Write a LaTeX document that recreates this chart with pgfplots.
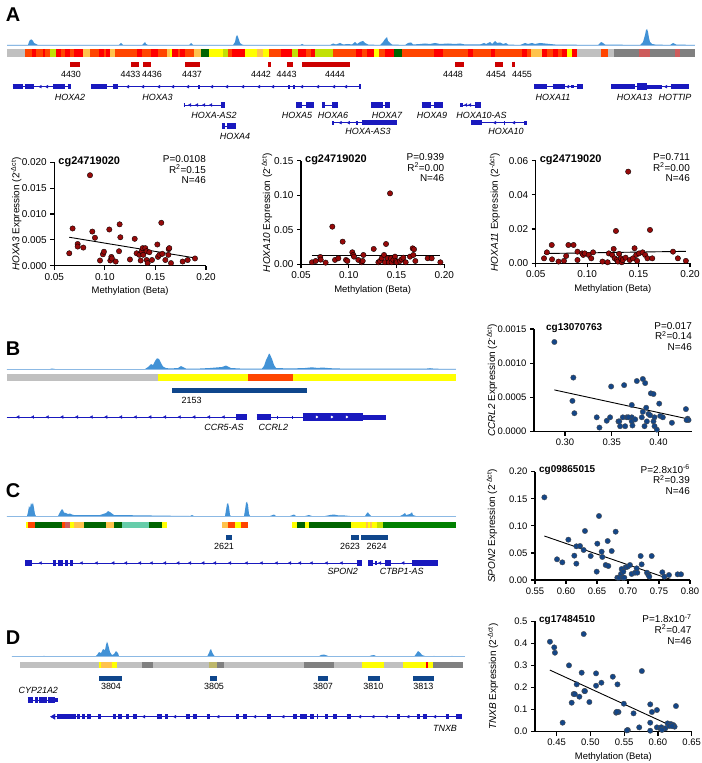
\documentclass[border=0pt]{standalone}
\usepackage{fontspec}
\setmainfont{Liberation Sans}
\setsansfont{Liberation Sans}
\usepackage{pgfplots}
\pgfplotsset{compat=1.18}
\definecolor{sigblue}{RGB}{66,146,214}
\definecolor{baseblue}{RGB}{140,185,228}
\definecolor{cRed}{RGB}{255,0,0}
\definecolor{cOR}{RGB}{255,69,0}
\definecolor{cLO}{RGB}{255,195,77}
\definecolor{cYel}{RGB}{255,255,0}
\definecolor{cYG}{RGB}{194,225,5}
\definecolor{cDG}{RGB}{0,100,0}
\definecolor{cG}{RGB}{0,128,0}
\definecolor{cAq}{RGB}{102,205,170}
\definecolor{cGray}{RGB}{192,192,192}
\definecolor{cDGray}{RGB}{128,128,128}
\definecolor{cIR}{RGB}{205,92,92}
\definecolor{cKh}{RGB}{189,183,107}
\definecolor{cpgRed}{RGB}{204,0,0}
\definecolor{cpgNavy}{RGB}{15,70,140}
\definecolor{geneblue}{RGB}{25,25,190}
\definecolor{ptRed}{RGB}{150,10,10}
\definecolor{ptNavy}{RGB}{20,70,135}
\newcommand{\seg}[5]{\addplot[fill=#5,draw=none,forget plot] coordinates {(#1,#3)(#2,#3)(#2,#4)(#1,#4)};}
\newcommand{\segA}[3]{\seg{#1}{#2}{48.7}{56.7}{#3}}
\newcommand{\segB}[3]{\seg{#1}{#2}{374.3}{380.7}{#3}}
\newcommand{\segC}[3]{\seg{#1}{#2}{521.7}{528.3}{#3}}
\newcommand{\segD}[3]{\seg{#1}{#2}{661.7}{668.3}{#3}}
\newcommand{\ex}[4][5.5]{\addplot[geneblue,line width=#1bp,forget plot] coordinates {(#2,#4)(#3,#4)};}
\newcommand{\inn}[3]{\addplot[geneblue,line width=0.9bp,forget plot] coordinates {(#1,#3)(#2,#3)};}
\newcommand{\arl}[1]{\addplot[geneblue,only marks,mark=triangle*,mark size=1.6bp,mark options={rotate=90},forget plot] coordinates {#1};}
\newcommand{\glab}[3]{\node[font=\fontsize{9}{10}\selectfont\itshape,inner sep=0pt] at (axis cs:#1,#2) {#3};}
\newcommand{\nlab}[3]{\node[font=\fontsize{9}{10}\selectfont,inner sep=0pt] at (axis cs:#1,#2) {#3};}
\newcommand{\plab}[3]{\node[font=\bfseries\fontsize{20}{20}\selectfont,inner sep=0pt] at (axis cs:#1,#2) {#3};}
\pgfplotsset{
  gp/.style={scale only axis, clip=false, axis lines*=left,
    axis line style={-,line width=1.2pt},
    every outer x axis line/.append style={-},
    every outer y axis line/.append style={-},
    every tick/.style={black,line width=1.2pt},
    tick align=outside, major tick length=4bp,
    scaled ticks=false,
    /pgf/number format/assume math mode=true,
    tick label style={font=\fontsize{10}{12}\selectfont},
    label style={font=\fontsize{9.5}{11}\selectfont},
    xticklabel style={/pgf/number format/.cd,fixed,fixed zerofill,precision=2},
    anchor=south west},
  yl/.style={every axis y label/.style={at={(axis description cs:0,0.5)},rotate=90,anchor=center,yshift=#1bp}},
  ptR/.style={only marks, mark=*, mark size=2.7bp, mark options={fill=ptRed, draw=black, line width=0.35pt}},
  ptB/.style={only marks, mark=*, mark size=2.7bp, mark options={fill=ptNavy, draw=black!70, line width=0.35pt}},
  trend/.style={black, line width=0.9pt, mark=none},
}
\newcommand{\ttl}[2]{\node[anchor=north west,inner sep=0pt,font=\bfseries\fontsize{#2}{#2}\selectfont,xshift=4bp,yshift=6bp] at (rel axis cs:0,1) {#1};}
\newcommand{\stats}[2]{\node[anchor=north east,align=right,inner sep=0pt,font=\fontsize{#2}{10.6}\selectfont,yshift=7bp] at (rel axis cs:1,1) {#1};}
\begin{document}
\begin{tikzpicture}
\useasboundingbox (0,0) rectangle (702bp,763bp);
\begin{axis}[at={(0,0)}, anchor=south west, scale only axis, width=702bp, height=763bp,
  xmin=0, xmax=702, ymin=0, ymax=763, y dir=reverse, hide axis, clip=false]
% ================= PANEL A =================
\plab{13}{15}{A}
\addplot[fill=sigblue,draw=none,forget plot] coordinates {(7,45)(28,45)(29,42)(30,40)(31.5,39.5)(33,41)(34,43)(36,44)(38,45)
(119,45)(121,43)(123,45)(142,45)(144,43)(145,42)(146,44)(148,45)(189,45)(191,43)(193,45)
(233,45)(235,42)(236,37)(237,35)(238,37)(239,40)(240,43)(242,44.5)(244,45)(300,45)(302,44)(304,45)
(330,45)(333,43.5)(336,44.5)(340,43)(343,44.5)(348,44)(352,44.5)(355,42)(357,44)(360,42)(363,41)(365,43)(368,44.5)
(380,45)(383,42)(385,39)(387,37)(388,41)(390,43)(392,44.5)
(405,45)(408,43)(411,42.5)(413,44.5)(420,44)(425,43.5)(430,44)(435,43)(440,44)(448,43.5)(455,44)(460,43.5)(465,44.5)
(480,44.5)(484,43)(486,44)(490,42)(492,44)(495,41)(497,43)(500,42.5)(503,44)(506,43)(508,44.5)
(520,45)(525,43)(528,44)(532,43)(535,44)(540,43)(545,43.5)(550,44)(555,44.5)
(598,45)(601,42)(603,43)(605,44.5)(640,45)(643,42)(645,35)(646,30)(647,29)(648,32)(649,38)(650,42)(652,44)(655,44.5)
(670,45)(673,43)(676,44.5)(695,45)};
\addplot[baseblue,line width=0.8bp,forget plot] coordinates {(7,45)(695,45)};
\segA{6.75}{24.75}{cGray}\segA{24.75}{31.5}{cOR}\segA{31.5}{36}{cRed}\segA{36}{42.75}{cOR}\segA{42.75}{45}{cRed}
\segA{45}{50.4}{cOR}\segA{50.4}{56.25}{cYG}\segA{56.25}{60.75}{cRed}\segA{60.75}{65.25}{cOR}\segA{65.25}{69.75}{cRed}
\segA{69.75}{74.25}{cOR}\segA{74.25}{83.25}{cRed}\segA{83.25}{90}{cLO}\segA{90}{99}{cOR}\segA{99}{103.5}{cRed}
\segA{103.5}{105.75}{cOR}\segA{105.75}{110.25}{cRed}\segA{110.25}{114.75}{cLO}\segA{114.75}{137.25}{cOR}
\segA{137.25}{141.75}{cRed}\segA{141.75}{150.75}{cOR}\segA{150.75}{157.5}{cRed}\segA{157.5}{166.5}{cOR}
\segA{166.5}{170}{cLO}\segA{170}{172.4}{cYel}\segA{172.4}{177.75}{cRed}\segA{177.75}{180}{cOR}\segA{180}{184.5}{cRed}
\segA{184.5}{193.5}{cOR}\segA{193.5}{201}{cLO}\segA{201}{209}{cDG}\segA{209}{222.75}{cYel}\segA{222.75}{228}{cYG}
\segA{228}{231.75}{cOR}\segA{231.75}{245.25}{cRed}\segA{245.25}{256.5}{cYel}\segA{256.5}{263.25}{cLO}
\segA{263.25}{269}{cYel}\segA{269}{281.25}{cOR}\segA{281.25}{291.6}{cRed}\segA{291.6}{297.9}{cYG}
\segA{297.9}{306}{cRed}\segA{306}{310.5}{cOR}\segA{310.5}{315}{cRed}\segA{315}{333}{cYG}\segA{333}{355.5}{cOR}
\segA{355.5}{362}{cRed}\segA{362}{367}{cOR}\segA{367}{373.5}{cRed}\segA{373.5}{379.35}{cYel}\segA{379.35}{385}{cOR}
\segA{385}{393.75}{cRed}\segA{393.75}{401.85}{cDG}\segA{401.85}{434.25}{cOR}\segA{434.25}{443.25}{cRed}
\segA{443.25}{468}{cOR}\segA{468}{472.5}{cRed}\segA{472.5}{490.5}{cOR}\segA{490.5}{495}{cRed}\segA{495}{522}{cOR}
\segA{522}{526.5}{cRed}\segA{526.5}{531}{cOR}\segA{531}{542.25}{cLO}\segA{542.25}{547}{cRed}\segA{547}{553}{cOR}
\segA{553}{558}{cRed}\segA{558}{562}{cOR}\segA{562}{567}{cRed}\segA{567}{571.5}{cYel}\segA{571.5}{577.35}{cRed}
\segA{577.35}{600.75}{cGray}\segA{600.75}{607.5}{cOR}\segA{607.5}{614.25}{cGray}\segA{614.25}{639}{cDGray}
\segA{639}{650.25}{cIR}\segA{650.25}{675}{cDGray}\segA{675}{679.5}{cIR}\segA{679.5}{695}{cDGray}
% CpG markers
\seg{69.8}{79.7}{62}{67}{cpgRed}\seg{131}{138.6}{62}{67}{cpgRed}\seg{142.7}{151}{62}{67}{cpgRed}
\seg{185}{200}{62}{67}{cpgRed}\seg{268}{270.5}{62}{67}{cpgRed}\seg{286.7}{293}{62}{67}{cpgRed}
\seg{301.5}{350}{62}{67}{cpgRed}\seg{454.5}{463.5}{62}{67}{cpgRed}\seg{495}{503}{62}{67}{cpgRed}\seg{512}{515}{62}{67}{cpgRed}
\nlab{71}{74.5}{4430}\nlab{130.5}{74.5}{4433}\nlab{152}{74.5}{4436}\nlab{192}{74.5}{4437}\nlab{261}{74.5}{4442}
\nlab{286.7}{74.5}{4443}\nlab{335}{74.5}{4444}\nlab{453}{74.5}{4448}\nlab{496}{74.5}{4454}\nlab{522}{74.5}{4455}
% genes row 1
\inn{12.6}{70.6}{86.7}\ex{12.6}{22.5}{86.7}\ex{24.7}{33.8}{86.7}\ex{53}{65}{86.7}\ex{67.5}{70.6}{86.7}\arl{(40.5,86.7)(47,86.7)}
\inn{91}{360}{86.7}\ex{91}{107}{86.7}\ex{112.5}{118}{86.7}
\arl{(128,86.7)(143,86.7)(159,86.7)(173,86.7)(188,86.7)(212,86.7)(227,86.7)(243,86.7)(259,86.7)(273,86.7)(302,86.7)(318,86.7)(334,86.7)(346,86.7)}
\ex[4]{198}{200}{86.7}\ex[4]{288}{290}{86.7}\ex[4]{293}{295}{86.7}\ex[5]{359}{360.5}{86.7}
\inn{534}{583}{86.7}\ex{534}{547}{86.7}\ex{552.6}{565}{86.7}\ex[3.5]{571}{574}{86.7}\ex{577}{583}{86.7}\arl{(568,86.7)}
\inn{611}{688.5}{86.7}\ex{611}{634.5}{86.7}\ex[6.5]{637}{646.6}{86.7}\ex[4]{646.6}{661.5}{86.7}\ex{670.5}{688.5}{86.7}\arl{(666,86.7)}
\glab{70}{97.3}{HOXA2}\glab{157.5}{97.3}{HOXA3}\glab{553}{97.3}{HOXA11}\glab{634.5}{97.3}{HOXA13}\glab{675}{97.3}{HOTTIP}
% genes row 2
\inn{183.6}{225}{105}\ex[4]{183.6}{185.4}{105}\ex{220.5}{225}{105}\arl{(190,105)(197,105)(204,105)(211,105)}
\inn{296}{313.6}{105}\ex{296}{302.4}{105}\ex{306}{313.6}{105}
\inn{321.75}{337.5}{105}\ex{321.75}{325}{105}\ex{332}{337.5}{105}
\inn{371.25}{389.7}{105}\ex{371.25}{382.5}{105}\ex{384.75}{389.7}{105}
\inn{421.65}{443.25}{105}\ex{421.65}{431}{105}\ex{434.25}{443.25}{105}
\inn{460}{480.6}{105}\ex[4]{460}{462.6}{105}\ex{474.75}{480.6}{105}\arl{(466,105)(470,105)}
\glab{214}{115}{HOXA-AS2}\glab{297}{115}{HOXA5}\glab{333}{115}{HOXA6}\glab{387}{115}{HOXA7}\glab{432}{115}{HOXA9}\glab{481.5}{115}{HOXA10-AS}
% genes row 3
\inn{221.85}{236.25}{126}\ex{221.85}{225}{126}\ex{227.25}{236.25}{126}
\inn{332}{397}{122.7}\ex[4]{332}{334.4}{122.7}\ex[4]{355.5}{357.75}{122.7}\ex{362}{397}{122.7}\arl{(340.6,122.7)(348.75,122.7)}
\inn{471}{526.5}{122.7}\ex{471}{482.4}{122.7}\ex[4]{504}{505.4}{122.7}\ex[4]{524}{526.5}{122.7}\arl{(495,122.7)(514,122.7)}
\glab{235}{136}{HOXA4}\glab{368}{131.7}{HOXA-AS3}\glab{506}{131.7}{HOXA10}
% ================= PANEL B =================
\plab{13}{349}{B}
\addplot[fill=sigblue,draw=none,forget plot] coordinates {(6.7,369)(50,369)(52,368.5)(55,369)(145,369)(148,367)(151,364)(153,365)(155,361)(157,358.3)(159,359)(161,363)(163,366.5)(166,368)(170,368.5)(178,368)(181,366)(183,367)(186,368.5)(200,368.5)(210,368)(222,367)(226,365.5)(228,366.5)(231,368)(240,368.5)(262,368.5)(264,366)(266,360)(268,356)(269,353.5)(270,354.5)(272,359)(274,365)(276,368)(290,368.5)(305,368)(312,367.3)(318,368)(322,367.5)(330,368.2)(340,368.5)(355,368.7)(425,368.7)(430,368.2)(435,368.7)(456,369)};
\addplot[baseblue,line width=0.8bp,forget plot] coordinates {(6.7,369)(456,369)};
\segB{6.7}{157.7}{cGray}\segB{157.7}{248.3}{cYel}\segB{248.3}{293.3}{cOR}\segB{293.3}{456}{cYel}
\seg{171.7}{307.3}{387.7}{392.7}{cpgNavy}
\nlab{191.7}{400.7}{2153}
\inn{6.7}{246.7}{417}\ex{236}{246.7}{417}
\arl{(18.3,417)(33,417)(47.7,417)(62.3,417)(77,417)(91.7,417)(106.3,417)(121,417)(135.7,417)(150.3,417)(165,417)(179.7,417)(194.3,417)(209,417)(223.7,417)}
\inn{256.7}{385.7}{417}\ex{256.7}{271}{417}\ex[7.5]{302.7}{362.7}{417}\ex[5]{362.7}{385.7}{417}
\addplot[geneblue,only marks,mark=|,mark size=1.5bp,forget plot] coordinates {(276.7,417)(291.7,417)};
\addplot[white,only marks,mark=triangle*,mark size=1.3bp,mark options={rotate=-90},forget plot] coordinates {(316.7,417)(331.7,417)(346.7,417)};
\glab{224}{427.3}{CCR5-AS}\glab{273.3}{427.3}{CCRL2}
% ================= PANEL C =================
\plab{13}{491}{C}
\addplot[fill=sigblue,draw=none,forget plot] coordinates {(6.7,516)(27,516)(28,512)(29,506)(30,508)(31,503)(32,505)(33,502.7)(34,508)(35,514)(36,516)
(58,516)(60,512)(62,509)(63,510)(64,512.5)(66,513)(68,514)(70,513.5)(72,514.5)(74,515)(100,515)(106,513)(108,511)(110,512)(112,513.5)(114,515)
(190,516)(192,515)(194,516)(225,516)(226,510)(227,504)(228,503)(229,507)(230,515)(231,516)(244,516)(245,510)(246,503)(247,501.7)(248,505)(249,514)(250,516)
(270,516)(274,514.5)(276,516)(290,516)(294,514.5)(296,516)(305,516)(309,515)(312,516)(325,516)(330,515)(334,514.5)(338,515.3)(345,515.5)(350,516)
(365,516)(367,513)(368,512.3)(369,514)(371,516)(400,516)(403,514.5)(405,513)(406,515)(410,514)(412,512.3)(413,515)(416,516)(456,516)};
\addplot[baseblue,line width=0.8bp,forget plot] coordinates {(6.7,516)(456,516)};
\segC{26}{28.3}{cYel}\segC{28.3}{35}{cOR}\segC{35}{61.7}{cDG}\segC{61.7}{65}{cOR}\segC{65}{70}{cIR}\segC{70}{74}{cYel}
\segC{74}{84}{cLO}\segC{84}{106}{cDG}\segC{106}{114.3}{cLO}\segC{114.3}{122.3}{cDG}\segC{122.3}{149}{cAq}\segC{149}{162.3}{cDG}
\segC{162.3}{166.7}{cYel}\segC{222.3}{228.3}{cLO}\segC{228.3}{235}{cOR}\segC{235}{241}{cYel}\segC{241}{247.7}{cOR}
\segC{292.3}{296.7}{cYel}\segC{296.7}{305}{cDG}\segC{305}{309.3}{cYel}\segC{309.3}{351}{cDG}\segC{351}{365.7}{cYel}
\segC{365.7}{367.5}{cLO}\segC{367.5}{369.5}{cYel}\segC{369.5}{371.7}{cLO}\segC{371.7}{376.7}{cYel}\segC{376.7}{382.7}{cYG}\segC{382.7}{456}{cG}
\seg{226}{232}{535}{540}{cpgNavy}\seg{351}{359}{535}{540}{cpgNavy}\seg{360.7}{387.7}{535}{540}{cpgNavy}
\nlab{224}{546.7}{2621}\nlab{350}{546.7}{2623}\nlab{376.7}{546.7}{2624}
\inn{25}{361.7}{563}\ex{25}{32.3}{563}\ex{52.7}{56}{563}\ex{57.7}{63.3}{563}\ex{65}{67.7}{563}\ex{70}{72.7}{563}\ex{356.7}{361.7}{563}
\arl{(40.7,563)(81.7,563)(96.7,563)(113.3,563)(126,563)(140,563)(151.7,563)(165,563)(178.3,563)(190,563)(203.3,563)(215,563)(230,563)(246.7,563)(261.7,563)(276.7,563)(290,563)(300,563)(311.7,563)(326.7,563)(341.7,563)}
\inn{368.3}{437.7}{563}\ex{368.3}{373.3}{563}\ex[4]{375}{376.7}{563}\ex{385}{391}{563}\ex{412.3}{415}{563}\ex{415}{437.7}{563}\arl{(380,563)(403.3,563)}
\glab{342.7}{571}{SPON2}\glab{401.7}{571}{CTBP1-AS}
% ================= PANEL D =================
\plab{13}{638}{D}
\addplot[fill=sigblue,draw=none,forget plot] coordinates {(11.7,656.7)(43,656.7)(44,655.5)(45,656.7)(95,656.7)(97,655)(99,652)(101,653)(103,649)(105,650)(106,645)(107,641.7)(108,644)(109,648)(110,652)(112,655)(114,654)(116,651)(118,653)(119,656)(120,656.7)
(176,656.7)(178,656)(180,656.7)(207,656.7)(209,653)(210,650)(211,649)(212,652)(214,655.5)(216,656.7)(318,656.7)(321,655)(324,654.5)(327,655.5)(330,656.7)
(368,656.7)(371,655.5)(374,655)(377,656.7)(414,656.7)(416,654)(418,651)(420,652.5)(422,655)(425,656)(428,656.7)(432,656.7)(434,655.8)(436,656.7)(450,656.7)(452,655.8)(454,656.7)(465,656.7)};
\addplot[baseblue,line width=0.8bp,forget plot] coordinates {(11.7,656.7)(465,656.7)};
\segD{20}{99.3}{cGray}\segD{99.3}{101}{cYel}\segD{101}{112.3}{cLO}\segD{112.3}{117.3}{cYel}\segD{117.3}{141.7}{cGray}
\segD{141.7}{153.3}{cDGray}\segD{153.3}{209.3}{cGray}\segD{209.3}{217.3}{cKh}\segD{217.3}{224}{cDGray}\segD{224}{304}{cGray}
\segD{304}{334.3}{cDGray}\segD{334.3}{361.7}{cGray}\segD{361.7}{384}{cYel}\segD{384}{403.3}{cGray}\segD{403.3}{425.7}{cYel}
\segD{425.7}{427.7}{cRed}\segD{427.7}{433.3}{cYel}\segD{433.3}{463.3}{cDGray}
\seg{99.3}{122.3}{675.7}{680.7}{cpgNavy}\seg{210}{216.7}{675.7}{680.7}{cpgNavy}\seg{318.3}{327.7}{675.7}{680.7}{cpgNavy}
\seg{368.3}{380}{675.7}{680.7}{cpgNavy}\seg{412.7}{434}{675.7}{680.7}{cpgNavy}
\nlab{111}{686.7}{3804}\nlab{214}{686.7}{3805}\nlab{323}{686.7}{3807}\nlab{373.3}{686.7}{3810}\nlab{423.3}{686.7}{3813}
\glab{38.3}{690.7}{CYP21A2}
\inn{27.7}{58.3}{700}\ex{27.7}{33.3}{700}\ex{35}{38.3}{700}\ex{39.3}{46.7}{700}\ex{48.3}{55}{700}\ex[3.5]{55}{58.3}{700}
\inn{51.7}{461.7}{716.7}
\ex{57.3}{76}{716.7}\ex{77.3}{80}{716.7}\ex{81.7}{85}{716.7}\ex{87.3}{90.7}{716.7}\ex{98.3}{100.7}{716.7}\ex{112.7}{116}{716.7}
\ex{118.3}{121.7}{716.7}\ex{126}{129.3}{716.7}\ex{132.7}{136.7}{716.7}\ex{157.3}{161.7}{716.7}\ex{165}{167.7}{716.7}\ex{185.7}{190}{716.7}
\ex{192.7}{196.7}{716.7}\ex{206.7}{210}{716.7}\ex{236}{239.3}{716.7}\ex{243.3}{246.7}{716.7}\ex{266.7}{270.7}{716.7}\ex{293.3}{296.7}{716.7}
\ex{300}{306.7}{716.7}\ex{310}{314}{716.7}\ex{316.7}{318.3}{716.7}\ex{325}{328.3}{716.7}\ex{333.3}{336.7}{716.7}\ex{346.7}{350.7}{716.7}
\ex{396.7}{400}{716.7}\ex{416.7}{420}{716.7}\ex{422.7}{427.3}{716.7}\ex{445.7}{449}{716.7}\ex{456}{461.7}{716.7}
\addplot[geneblue,only marks,mark=triangle*,mark size=3bp,mark options={rotate=90},forget plot] coordinates {(53.5,716.7)};
\arl{(144,716.7)(175,716.7)(218.3,716.7)(255,716.7)(283.3,716.7)(360,716.7)(373.3,716.7)(386.7,716.7)(408.3,716.7)(435,716.7)}
\glab{445}{728.3}{TNXB}
\end{axis}
% ================= SCATTER A1 =================
\begin{axis}[gp, yl=38, at={(54.3bp,497.3bp)}, width=151.7bp, height=103.4bp,
  xmin=0.05, xmax=0.20, ymin=0, ymax=0.020, xtick={0.05,0.10,0.15,0.20}, ytick={0,0.005,0.010,0.015,0.020},
  yticklabel style={/pgf/number format/.cd,fixed,fixed zerofill,precision=3},
  xlabel={Methylation (Beta)}, ylabel={\textit{HOXA3} Expression (2\textsuperscript{-Δct})}]
\addplot[trend] coordinates {(0.0648,0.0055)(0.189,0.0015)};
\addplot[ptR] coordinates {(0.0648,0.0024)(0.0681,0.0072)(0.0731,0.0042)(0.0731,0.0037)(0.0787,0.0035)(0.0853,0.0175)(0.0876,0.0066)(0.0902,0.0054)(0.0952,0.0010)(0.0981,0.0022)(0.0991,0.0027)(0.1044,0.0070)(0.1054,0.0010)(0.1064,0.0017)(0.1070,0.0014)(0.1107,0.0008)(0.1140,0.0028)(0.1146,0.0080)(0.1153,0.0055)(0.1248,0.0012)(0.1295,0.0052)(0.1314,0.0024)(0.1341,0.0021)(0.1354,0.0010)(0.1364,0.0028)(0.1374,0.0034)(0.1380,0.0021)(0.1400,0.0034)(0.1413,0.0028)(0.1413,0.0011)(0.1423,0.0005)(0.1440,0.0026)(0.1466,0.0011)(0.1519,0.0041)(0.1525,0.0017)(0.1539,0.0021)(0.1558,0.0083)(0.1568,0.0023)(0.1598,0.0011)(0.1628,0.0021)(0.1631,0.0032)(0.1637,0.0034)(0.1654,0.0005)(0.1769,0.0008)(0.1819,0.0011)(0.1891,0.0014)};
\ttl{cg24719020}{11}
\stats{P=0.0108\\R\textsuperscript{2}=0.15\\N=46}{10}
\end{axis}
% ================= SCATTER A2 =================
\begin{axis}[gp, yl=34, at={(301bp,498.7bp)}, width=143.3bp, height=103.6bp,
  xmin=0.05, xmax=0.20, ymin=0, ymax=0.15, xtick={0.05,0.10,0.15,0.20}, ytick={0,0.05,0.10,0.15},
  yticklabel style={/pgf/number format/.cd,fixed,fixed zerofill,precision=2},
  xlabel={Methylation (Beta)}, ylabel={\textit{HOXA10} Expression (2\textsuperscript{-Δct})}]
\addplot[trend] coordinates {(0.0615,0.0125)(0.1959,0.0125)};
\addplot[ptR] coordinates {(0.0615,0.0029)(0.0654,0.0048)(0.0702,0.0106)(0.0706,0.0067)(0.0758,0.0024)(0.0828,0.0545)(0.0856,0.0063)(0.0891,0.0087)(0.0936,0.0328)(0.0971,0.0063)(0.0985,0.0048)(0.1037,0.0174)(0.1048,0.0135)(0.1055,0.0111)(0.1100,0.0063)(0.1135,0.0029)(0.1146,0.0048)(0.1153,0.0135)(0.1261,0.0222)(0.1310,0.0029)(0.1327,0.0048)(0.1345,0.0087)(0.1369,0.0135)(0.1379,0.0029)(0.1390,0.0294)(0.1407,0.0087)(0.1421,0.0029)(0.1432,0.1027)(0.1442,0.0087)(0.1449,0.0029)(0.1467,0.0063)(0.1484,0.0111)(0.1495,0.0048)(0.1502,0.0029)(0.1537,0.0048)(0.1554,0.0072)(0.1571,0.0096)(0.1596,0.0029)(0.1641,0.0111)(0.1669,0.0231)(0.1676,0.0135)(0.1683,0.0217)(0.1697,0.0048)(0.1826,0.0087)(0.1868,0.0087)(0.1959,0.0029)};
\ttl{cg24719020}{11}
\stats{P=0.939\\R\textsuperscript{2}=0.00\\N=46}{10}
\end{axis}
% ================= SCATTER A3 =================
\begin{axis}[gp, yl=41, at={(535.7bp,499.7bp)}, width=154.3bp, height=102.6bp,
  xmin=0.05, xmax=0.20, ymin=0, ymax=0.06, xtick={0.05,0.10,0.15,0.20}, ytick={0,0.02,0.04,0.06},
  yticklabel style={/pgf/number format/.cd,fixed,fixed zerofill,precision=2},
  xlabel={Methylation (Beta)}, ylabel={\textit{HOXA11} Expression (2\textsuperscript{-Δct})}]
\addplot[trend] coordinates {(0.0581,0.0057)(0.196,0.0070)};
\addplot[ptR] coordinates {(0.0581,0.0029)(0.0609,0.0064)(0.0656,0.0107)(0.0659,0.0023)(0.0722,0.0010)(0.0775,0.0014)(0.0796,0.0043)(0.0818,0.0107)(0.0868,0.0107)(0.0906,0.0068)(0.0906,0.0019)(0.0952,0.0058)(0.0962,0.0049)(0.0977,0.0058)(0.1015,0.0049)(0.1040,0.0029)(0.1058,0.0064)(0.1149,0.0010)(0.1199,0.0006)(0.1211,0.0058)(0.1243,0.0049)(0.1258,0.0084)(0.1268,0.0029)(0.1280,0.0189)(0.1289,0.0019)(0.1299,0.0010)(0.1311,0.0055)(0.1327,0.0029)(0.1336,0.0006)(0.1346,0.0019)(0.1374,0.0033)(0.1399,0.0536)(0.1414,0.0019)(0.1445,0.0029)(0.1461,0.0088)(0.1477,0.0049)(0.1486,0.0014)(0.1505,0.0058)(0.1539,0.0064)(0.1564,0.0049)(0.1586,0.0029)(0.1611,0.0195)(0.1633,0.0029)(0.1835,0.0068)(0.1882,0.0029)(0.1960,0.0014)};
\ttl{cg24719020}{11}
\stats{P=0.711\\R\textsuperscript{2}=0.00\\N=46}{10}
\end{axis}
% ================= SCATTER B =================
\begin{axis}[gp, yl=42, at={(534bp,331.3bp)}, width=158bp, height=102.7bp,
  xmin=0.2668, xmax=0.4358, ymin=0, ymax=0.0015, xtick={0.30,0.35,0.40}, ytick={0,0.0005,0.0010,0.0015},
  tick label style={font=\fontsize{9.5}{11}\selectfont},
  yticklabel style={/pgf/number format/.cd,fixed,fixed zerofill,precision=4},
  ylabel={\textit{CCRL2} Expression (2\textsuperscript{-Δct})}]
\addplot[trend] coordinates {(0.2886,0.00061)(0.432,0.000185)};
\addplot[ptB] coordinates {(0.2886,0.00131)(0.3089,0.00079)(0.3079,0.00045)(0.3100,0.00027)(0.3339,0.00021)(0.3368,0.00006)(0.3446,0.00016)(0.3482,0.00021)(0.3493,0.00066)(0.3571,0.00015)(0.3589,0.00008)(0.3618,0.00021)(0.3632,0.00068)(0.3643,0.00008)(0.3661,0.00021)(0.3714,0.00021)(0.3714,0.00039)(0.3714,0.00015)(0.3721,0.00009)(0.3768,0.00074)(0.3821,0.00021)(0.3832,0.00029)(0.3832,0.00077)(0.3850,0.00008)(0.3857,0.00071)(0.3868,0.00035)(0.3893,0.00026)(0.3918,0.00056)(0.3946,0.00055)(0.3946,0.00015)(0.3957,0.00021)(0.3957,0.00008)(0.3982,0.00003)(0.4007,0.00041)(0.4018,0.00023)(0.4143,0.00013)(0.4293,0.00033)(0.4311,0.00019)(0.4321,0.00017)(0.3679,0.00021)(0.375,0.00018)(0.3875,0.00015)(0.391,0.00024)(0.358,0.00015)(0.4046,0.00021)(0.430,0.00017)};
\node[anchor=north west,inner sep=0pt,font=\bfseries\fontsize{10}{10}\selectfont,xshift=12bp,yshift=6bp] at (rel axis cs:0,1) {cg13070763};
\stats{P=0.017\\R\textsuperscript{2}=0.14\\N=46}{10}
\end{axis}
% ================= SCATTER C =================
\begin{axis}[gp, yl=43, at={(535bp,183bp)}, width=155bp, height=108.3bp,
  xmin=0.55, xmax=0.80, ymin=0, ymax=0.20, xtick={0.55,0.60,0.65,0.70,0.75,0.80}, ytick={0,0.05,0.10,0.15,0.20},
  tick label style={font=\fontsize{9.5}{11}\selectfont},
  yticklabel style={/pgf/number format/.cd,fixed,fixed zerofill,precision=2},
  ylabel={\textit{SPON2} Expression (2\textsuperscript{-Δct})}]
\addplot[trend] coordinates {(0.5651,0.0812)(0.7715,0)};
\addplot[ptB] coordinates {(0.5651,0.1526)(0.5855,0.0382)(0.5941,0.0326)(0.6038,0.0745)(0.6134,0.0449)(0.6167,0.0302)(0.6167,0.0622)(0.6226,0.0628)(0.6285,0.0554)(0.6306,0.0905)(0.6398,0.0443)(0.6495,0.0154)(0.6505,0.0671)(0.6532,0.1182)(0.6575,0.0523)(0.6586,0.0425)(0.6640,0.0277)(0.6672,0.0720)(0.6683,0.0258)(0.6737,0.0535)(0.6801,0.0892)(0.6828,0.0043)(0.6855,0.0043)(0.6887,0.0111)(0.6898,0.0203)(0.6914,0.0043)(0.6925,0.0154)(0.6941,0.0043)(0.6962,0.0234)(0.6995,0.0246)(0.7032,0.0277)(0.7059,0.0111)(0.7113,0.0135)(0.7140,0.0215)(0.7150,0.0135)(0.7204,0.0443)(0.7220,0.0289)(0.7306,0.0135)(0.7328,0.0092)(0.7344,0.0062)(0.7382,0.0443)(0.7554,0.0142)(0.7586,0.0062)(0.7661,0.0092)(0.7801,0.0105)(0.7855,0.0105)};
\ttl{cg09865015}{10}
\stats{P=2.8x10\textsuperscript{-6}\\R\textsuperscript{2}=0.39\\N=46}{10}
\end{axis}
% ================= SCATTER D =================
\begin{axis}[gp, yl=42, at={(535bp,31.3bp)}, width=156.7bp, height=110.4bp,
  xmin=0.418, xmax=0.65, ymin=0, ymax=0.5, xtick={0.45,0.50,0.55,0.60,0.65}, ytick={0,0.1,0.2,0.3,0.4,0.5},
  tick label style={font=\fontsize{9.5}{11}\selectfont},
  yticklabel style={/pgf/number format/.cd,fixed,fixed zerofill,precision=1},
  xlabel={Methylation (Beta)}, ylabel={\textit{TNXB} Expression (2\textsuperscript{-Δct})}]
\addplot[trend] coordinates {(0.4401,0.279)(0.6247,0.0196)};
\addplot[ptB] coordinates {(0.4401,0.4075)(0.4465,0.3819)(0.4475,0.3577)(0.4589,0.0408)(0.4683,0.3004)(0.4723,0.1313)(0.4752,0.1706)(0.4797,0.2143)(0.4837,0.1585)(0.4871,0.2672)(0.4901,0.4423)(0.4911,0.1842)(0.4985,0.1343)(0.5084,0.2083)(0.5084,0.2642)(0.5163,0.2219)(0.5332,0.2491)(0.5381,0.0860)(0.5401,0.2143)(0.5416,0.0891)(0.5495,0.1268)(0.5554,0.0075)(0.5639,0.0830)(0.5723,0.0196)(0.5762,0.2747)(0.5886,0.1238)(0.5886,0.0408)(0.5886,0.0045)(0.5911,0.0891)(0.5985,0.0981)(0.5985,0.0196)(0.6035,0.0151)(0.6109,0.0151)(0.6143,0.0377)(0.6193,0.0347)(0.6228,0.0302)(0.6247,0.0226)(0.6267,0.1162)(0.605,0.020)(0.6168,0.026)(0.606,0.008)(0.539,0.090)(0.477,0.170)(0.554,0.006)(0.621,0.025)(0.492,0.184)};
\ttl{cg17484510}{10}
\stats{P=1.8x10\textsuperscript{-7}\\R\textsuperscript{2}=0.47\\N=46}{10}
\end{axis}
\end{tikzpicture}
\end{document}
